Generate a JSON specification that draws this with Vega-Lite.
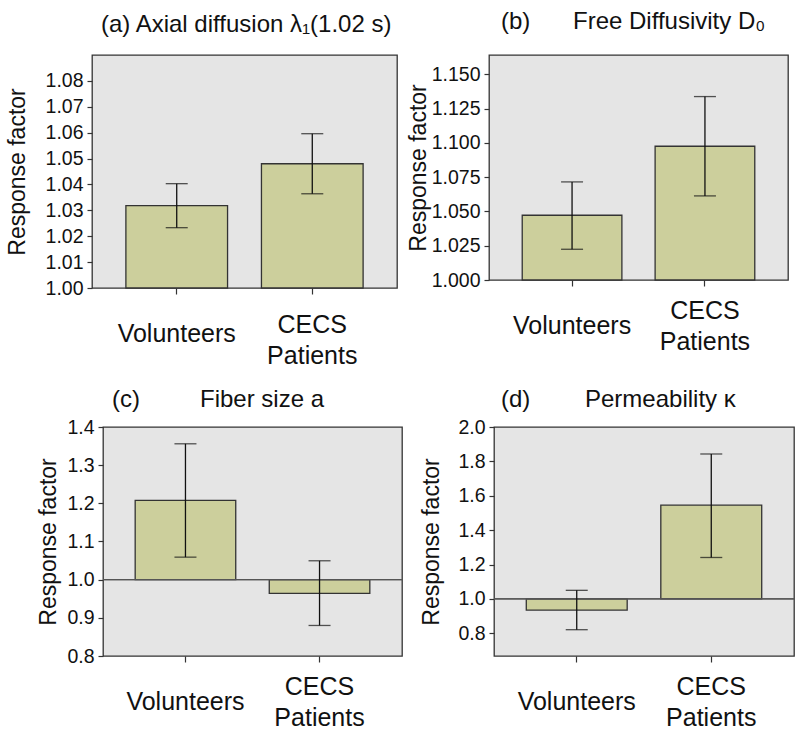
{
  "$schema": "https://vega.github.io/schema/vega-lite/v6.json",
  "padding": {"left": -15, "top": 9, "right": 0, "bottom": 0},
  "background": "white",
  "datasets": {
    "resp": [
      {"panel": "a", "group": "Volunteers", "value": 1.0318, "lo": 1.0233, "hi": 1.0403},
      {"panel": "a", "group": "CECS Patients", "value": 1.048, "lo": 1.0364, "hi": 1.0596},
      {"panel": "b", "group": "Volunteers", "value": 1.0472, "lo": 1.0224, "hi": 1.0715},
      {"panel": "b", "group": "CECS Patients", "value": 1.0975, "lo": 1.0613, "hi": 1.1337},
      {"panel": "c", "group": "Volunteers", "value": 1.2076, "lo": 1.059, "hi": 1.356},
      {"panel": "c", "group": "CECS Patients", "value": 0.964, "lo": 0.88, "hi": 1.0495},
      {"panel": "d", "group": "Volunteers", "value": 0.935, "lo": 0.821, "hi": 1.05},
      {"panel": "d", "group": "CECS Patients", "value": 1.545, "lo": 1.241, "hi": 1.843}
    ],
    "empty": []
  },
  "config": {
    "font": "Liberation Sans",
    "view": {"fill": "#e5e5e5", "stroke": "#333333", "strokeWidth": 1.3},
    "axisX": {
      "title": null, "labelAngle": 0, "labelFontSize": 25, "labelColor": "#111111",
      "labelBaseline": "middle", "labelLineHeight": 31,
      "tickSize": 6, "tickColor": "#333333", "tickWidth": 1.2, "domain": false,
      "labelOverlap": false, "labelBound": false, "labelFlush": false,
      "labelExpr": "datum.value == 'CECS Patients' ? ['CECS', 'Patients'] : datum.value"
    },
    "axisY": {
      "labelFontSize": 19.5, "labelColor": "#111111", "labelPadding": 4,
      "tickSize": 5, "tickColor": "#333333", "tickWidth": 1.2, "domain": false, "grid": false,
      "titleFontSize": 23, "titleFontWeight": "normal", "titleColor": "#111111",
      "labelOverlap": false, "labelFlush": false
    },
    "title": {"fontSize": 24, "fontWeight": "normal", "color": "#111111", "anchor": "start", "dx": 9, "baseline": "alphabetic", "frame": "group"},
    "bar": {"fill": "#cccf9c", "stroke": "#333333", "strokeWidth": 1.3}
  },
  "concat": [
    {
      "concat": [
        {
          "width": 12, "height": 10,
          "view": {"stroke": null, "fill": null},
          "data": {"name": "empty"},
          "mark": "point",
          "encoding": {}
        },
        {
          "width": 305, "height": 233,
          "title": {"text": "(a) Axial diffusion λ₁(1.02 s)", "offset": 18},
          "data": {"name": "resp"},
          "transform": [{"filter": "datum.panel == 'a'"}],
          "layer": [
            {"mark": "bar", "encoding": {
              "x": {"field": "group", "type": "nominal", "sort": ["Volunteers", "CECS Patients"], "scale": {"paddingInner": 0.25, "paddingOuter": 0.25}, "axis": {"labelPadding": {"condition": {"test": "datum.value == 'CECS Patients'", "value": 30}, "value": 39}}},
              "y": {"field": "value", "type": "quantitative", "scale": {"domain": [1.0, 1.09], "nice": false, "zero": false}, "axis": {"title": "Response factor", "values": [1.0, 1.01, 1.02, 1.03, 1.04, 1.05, 1.06, 1.07, 1.08], "format": ".2f", "titlePadding": 16}},
              "y2": {"datum": 1.0}}},
            {"mark": {"type": "rule", "color": "#111111", "strokeWidth": 1.3}, "encoding": {
              "x": {"field": "group", "type": "nominal", "sort": ["Volunteers", "CECS Patients"]},
              "y": {"field": "lo", "type": "quantitative", "axis": {"title": "Response factor", "values": [1.0, 1.01, 1.02, 1.03, 1.04, 1.05, 1.06, 1.07, 1.08], "format": ".2f", "titlePadding": 16}},
              "y2": {"field": "hi"}}},
            {"mark": {"type": "tick", "color": "#111111", "size": 22, "thickness": 1.3}, "encoding": {
              "x": {"field": "group", "type": "nominal", "sort": ["Volunteers", "CECS Patients"]},
              "y": {"field": "lo", "type": "quantitative", "axis": {"title": "Response factor", "values": [1.0, 1.01, 1.02, 1.03, 1.04, 1.05, 1.06, 1.07, 1.08], "format": ".2f", "titlePadding": 16}}}},
            {"mark": {"type": "tick", "color": "#111111", "size": 22, "thickness": 1.3}, "encoding": {
              "x": {"field": "group", "type": "nominal", "sort": ["Volunteers", "CECS Patients"]},
              "y": {"field": "hi", "type": "quantitative", "axis": {"title": "Response factor", "values": [1.0, 1.01, 1.02, 1.03, 1.04, 1.05, 1.06, 1.07, 1.08], "format": ".2f", "titlePadding": 16}}}}
          ]
        },
        {
          "width": 299, "height": 225,
          "title": {"text": "(b)\u2003\u2002 Free Diffusivity D₀", "offset": 21, "dx": 12},
          "data": {"name": "resp"},
          "transform": [{"filter": "datum.panel == 'b'"}],
          "layer": [
            {"mark": "bar", "encoding": {
              "x": {"field": "group", "type": "nominal", "sort": ["Volunteers", "CECS Patients"], "scale": {"paddingInner": 0.25, "paddingOuter": 0.25}, "axis": {"labelPadding": {"condition": {"test": "datum.value == 'CECS Patients'", "value": 24}, "value": 39}}},
              "y": {"field": "value", "type": "quantitative", "scale": {"domain": [1.0, 1.164], "nice": false, "zero": false}, "axis": {"title": "Response factor", "values": [1.0, 1.025, 1.05, 1.075, 1.1, 1.125, 1.15], "format": ".3f", "titlePadding": 1}},
              "y2": {"datum": 1.0}}},
            {"mark": {"type": "rule", "color": "#111111", "strokeWidth": 1.3}, "encoding": {
              "x": {"field": "group", "type": "nominal", "sort": ["Volunteers", "CECS Patients"]},
              "y": {"field": "lo", "type": "quantitative", "axis": {"title": "Response factor", "values": [1.0, 1.025, 1.05, 1.075, 1.1, 1.125, 1.15], "format": ".3f", "titlePadding": 1}},
              "y2": {"field": "hi"}}},
            {"mark": {"type": "tick", "color": "#111111", "size": 22, "thickness": 1.3}, "encoding": {
              "x": {"field": "group", "type": "nominal", "sort": ["Volunteers", "CECS Patients"]},
              "y": {"field": "lo", "type": "quantitative", "axis": {"title": "Response factor", "values": [1.0, 1.025, 1.05, 1.075, 1.1, 1.125, 1.15], "format": ".3f", "titlePadding": 1}}}},
            {"mark": {"type": "tick", "color": "#111111", "size": 22, "thickness": 1.3}, "encoding": {
              "x": {"field": "group", "type": "nominal", "sort": ["Volunteers", "CECS Patients"]},
              "y": {"field": "hi", "type": "quantitative", "axis": {"title": "Response factor", "values": [1.0, 1.025, 1.05, 1.075, 1.1, 1.125, 1.15], "format": ".3f", "titlePadding": 1}}}}
          ]
        }
      ],
      "columns": 3,
      "align": "none",
      "spacing": 8
    },
    {
      "concat": [
        {
          "width": 36, "height": 10,
          "view": {"stroke": null, "fill": null},
          "data": {"name": "empty"},
          "mark": "point",
          "encoding": {}
        },
        {
          "width": 299, "height": 229,
          "title": {"text": "(c)\u2003\u2003\u2002Fiber size a", "offset": 5},
          "data": {"name": "resp"},
          "transform": [{"filter": "datum.panel == 'c'"}],
          "layer": [
            {"mark": "bar", "encoding": {
              "x": {"field": "group", "type": "nominal", "sort": ["Volunteers", "CECS Patients"], "scale": {"paddingInner": 0.25, "paddingOuter": 0.24}, "axis": {"labelPadding": {"condition": {"test": "datum.value == 'CECS Patients'", "value": 24}, "value": 39}}},
              "y": {"field": "value", "type": "quantitative", "scale": {"domain": [0.8, 1.4], "nice": false, "zero": false}, "axis": {"title": "Response factor", "values": [0.8, 0.9, 1.0, 1.1, 1.2, 1.3, 1.4], "format": ".1f", "titlePadding": 6}},
              "y2": {"datum": 1.0}}},
            {"mark": {"type": "rule", "color": "#555555", "strokeWidth": 1.3}, "encoding": {
              "y": {"datum": 1.0, "type": "quantitative", "axis": {"title": "Response factor", "values": [0.8, 0.9, 1.0, 1.1, 1.2, 1.3, 1.4], "format": ".1f", "titlePadding": 6}}}},
            {"mark": {"type": "rule", "color": "#111111", "strokeWidth": 1.3}, "encoding": {
              "x": {"field": "group", "type": "nominal", "sort": ["Volunteers", "CECS Patients"]},
              "y": {"field": "lo", "type": "quantitative", "axis": {"title": "Response factor", "values": [0.8, 0.9, 1.0, 1.1, 1.2, 1.3, 1.4], "format": ".1f", "titlePadding": 6}},
              "y2": {"field": "hi"}}},
            {"mark": {"type": "tick", "color": "#111111", "size": 22, "thickness": 1.3}, "encoding": {
              "x": {"field": "group", "type": "nominal", "sort": ["Volunteers", "CECS Patients"]},
              "y": {"field": "lo", "type": "quantitative", "axis": {"title": "Response factor", "values": [0.8, 0.9, 1.0, 1.1, 1.2, 1.3, 1.4], "format": ".1f", "titlePadding": 6}}}},
            {"mark": {"type": "tick", "color": "#111111", "size": 22, "thickness": 1.3}, "encoding": {
              "x": {"field": "group", "type": "nominal", "sort": ["Volunteers", "CECS Patients"]},
              "y": {"field": "hi", "type": "quantitative", "axis": {"title": "Response factor", "values": [0.8, 0.9, 1.0, 1.1, 1.2, 1.3, 1.4], "format": ".1f", "titlePadding": 6}}}}
          ]
        },
        {
          "width": 300, "height": 229,
          "title": {"text": "(d)\u2003\u2003 Permeability κ", "offset": 5, "dx": 7},
          "data": {"name": "resp"},
          "transform": [{"filter": "datum.panel == 'd'"}],
          "layer": [
            {"mark": "bar", "encoding": {
              "x": {"field": "group", "type": "nominal", "sort": ["Volunteers", "CECS Patients"], "scale": {"paddingInner": 0.25, "paddingOuter": 0.24}, "axis": {"labelPadding": {"condition": {"test": "datum.value == 'CECS Patients'", "value": 24}, "value": 39}}},
              "y": {"field": "value", "type": "quantitative", "scale": {"domain": [0.668, 2.0], "nice": false, "zero": false}, "axis": {"title": "Response factor", "values": [0.8, 1.0, 1.2, 1.4, 1.6, 1.8, 2.0], "format": ".1f", "titlePadding": 14}},
              "y2": {"datum": 1.0}}},
            {"mark": {"type": "rule", "color": "#555555", "strokeWidth": 1.3}, "encoding": {
              "y": {"datum": 1.0, "type": "quantitative", "axis": {"title": "Response factor", "values": [0.8, 1.0, 1.2, 1.4, 1.6, 1.8, 2.0], "format": ".1f", "titlePadding": 14}}}},
            {"mark": {"type": "rule", "color": "#111111", "strokeWidth": 1.3}, "encoding": {
              "x": {"field": "group", "type": "nominal", "sort": ["Volunteers", "CECS Patients"]},
              "y": {"field": "lo", "type": "quantitative", "axis": {"title": "Response factor", "values": [0.8, 1.0, 1.2, 1.4, 1.6, 1.8, 2.0], "format": ".1f", "titlePadding": 14}},
              "y2": {"field": "hi"}}},
            {"mark": {"type": "tick", "color": "#111111", "size": 22, "thickness": 1.3}, "encoding": {
              "x": {"field": "group", "type": "nominal", "sort": ["Volunteers", "CECS Patients"]},
              "y": {"field": "lo", "type": "quantitative", "axis": {"title": "Response factor", "values": [0.8, 1.0, 1.2, 1.4, 1.6, 1.8, 2.0], "format": ".1f", "titlePadding": 14}}}},
            {"mark": {"type": "tick", "color": "#111111", "size": 22, "thickness": 1.3}, "encoding": {
              "x": {"field": "group", "type": "nominal", "sort": ["Volunteers", "CECS Patients"]},
              "y": {"field": "hi", "type": "quantitative", "axis": {"title": "Response factor", "values": [0.8, 1.0, 1.2, 1.4, 1.6, 1.8, 2.0], "format": ".1f", "titlePadding": 14}}}}
          ]
        }
      ],
      "columns": 3,
      "align": "none",
      "spacing": 16
    }
  ],
  "columns": 1,
  "align": "none",
  "spacing": 18
}
